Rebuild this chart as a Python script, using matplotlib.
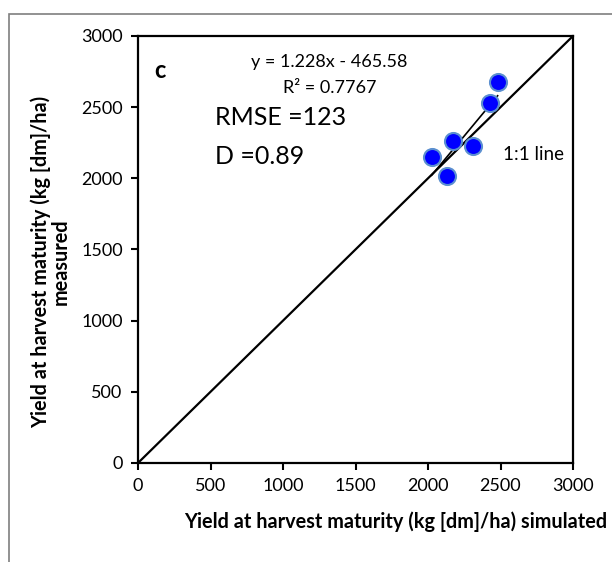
import matplotlib.pyplot as plt
from matplotlib.patches import Rectangle

plt.rcParams['font.family'] = ['Lato', 'DejaVu Sans']

# simulated vs measured yield (kg dm/ha)
simulated = [2480, 2430, 2170, 2310, 2025, 2130]
measured = [2680, 2530, 2260, 2230, 2150, 2015]
slope, intercept = 1.228, -465.58
ticks = [0, 500, 1000, 1500, 2000, 2500, 3000]

fig = plt.figure(figsize=(6.12, 5.62), dpi=100)
ax = fig.add_axes([0.2255, 0.1762, 0.7108, 0.7598])

# outer gray frame
fig.patches.append(Rectangle((9 / 612, -0.1), 1.2, 1 - 14 / 562 + 0.1,
                             transform=fig.transFigure, fill=False,
                             edgecolor='#7f7f7f', linewidth=1.2))

ax.plot([0, 3000], [0, 3000], color='black', linewidth=1.6)
xs = [min(simulated), max(simulated)]
ax.plot(xs, [slope * v + intercept for v in xs], color='black', linewidth=1.2)
ax.scatter(simulated, measured, s=150, color='#0000ff', edgecolors='#5b8fd0',
           linewidths=1.5, zorder=3)

ax.set_xlim(0, 3000)
ax.set_ylim(0, 3000)
ax.set_xticks(ticks)
ax.set_yticks(ticks)
ax.tick_params(direction='out', length=5, width=1.5, labelsize=13, pad=6)
for s in ax.spines.values():
    s.set_linewidth(1.6)

ax.text(110, 2760, 'c', fontsize=17, fontweight='bold', va='center')
ax.text(1320, 2815, 'y = 1.228x - 465.58', fontsize=13, ha='center', va='center')
ax.text(1320, 2635, 'R² = 0.7767', fontsize=13, ha='center', va='center')
ax.text(530, 2430, 'RMSE =123', fontsize=18, va='center')
ax.text(530, 2150, 'D =0.89', fontsize=18, va='center')
ax.text(2520, 2165, '1:1 line', fontsize=13.5, va='center')

fig.text(0.992, 0.071, 'Yield at harvest maturity (kg [dm]/ha) simulated',
         fontsize=14.3, fontweight='bold', ha='right', va='center')
fig.text(0.083, 0.534, 'Yield at harvest maturity (kg [dm]/ha)\nmeasured',
         fontsize=14.3, fontweight='bold', ha='center', va='center',
         rotation=90, multialignment='center', linespacing=1.0)

fig.savefig('out.png', dpi=100)
